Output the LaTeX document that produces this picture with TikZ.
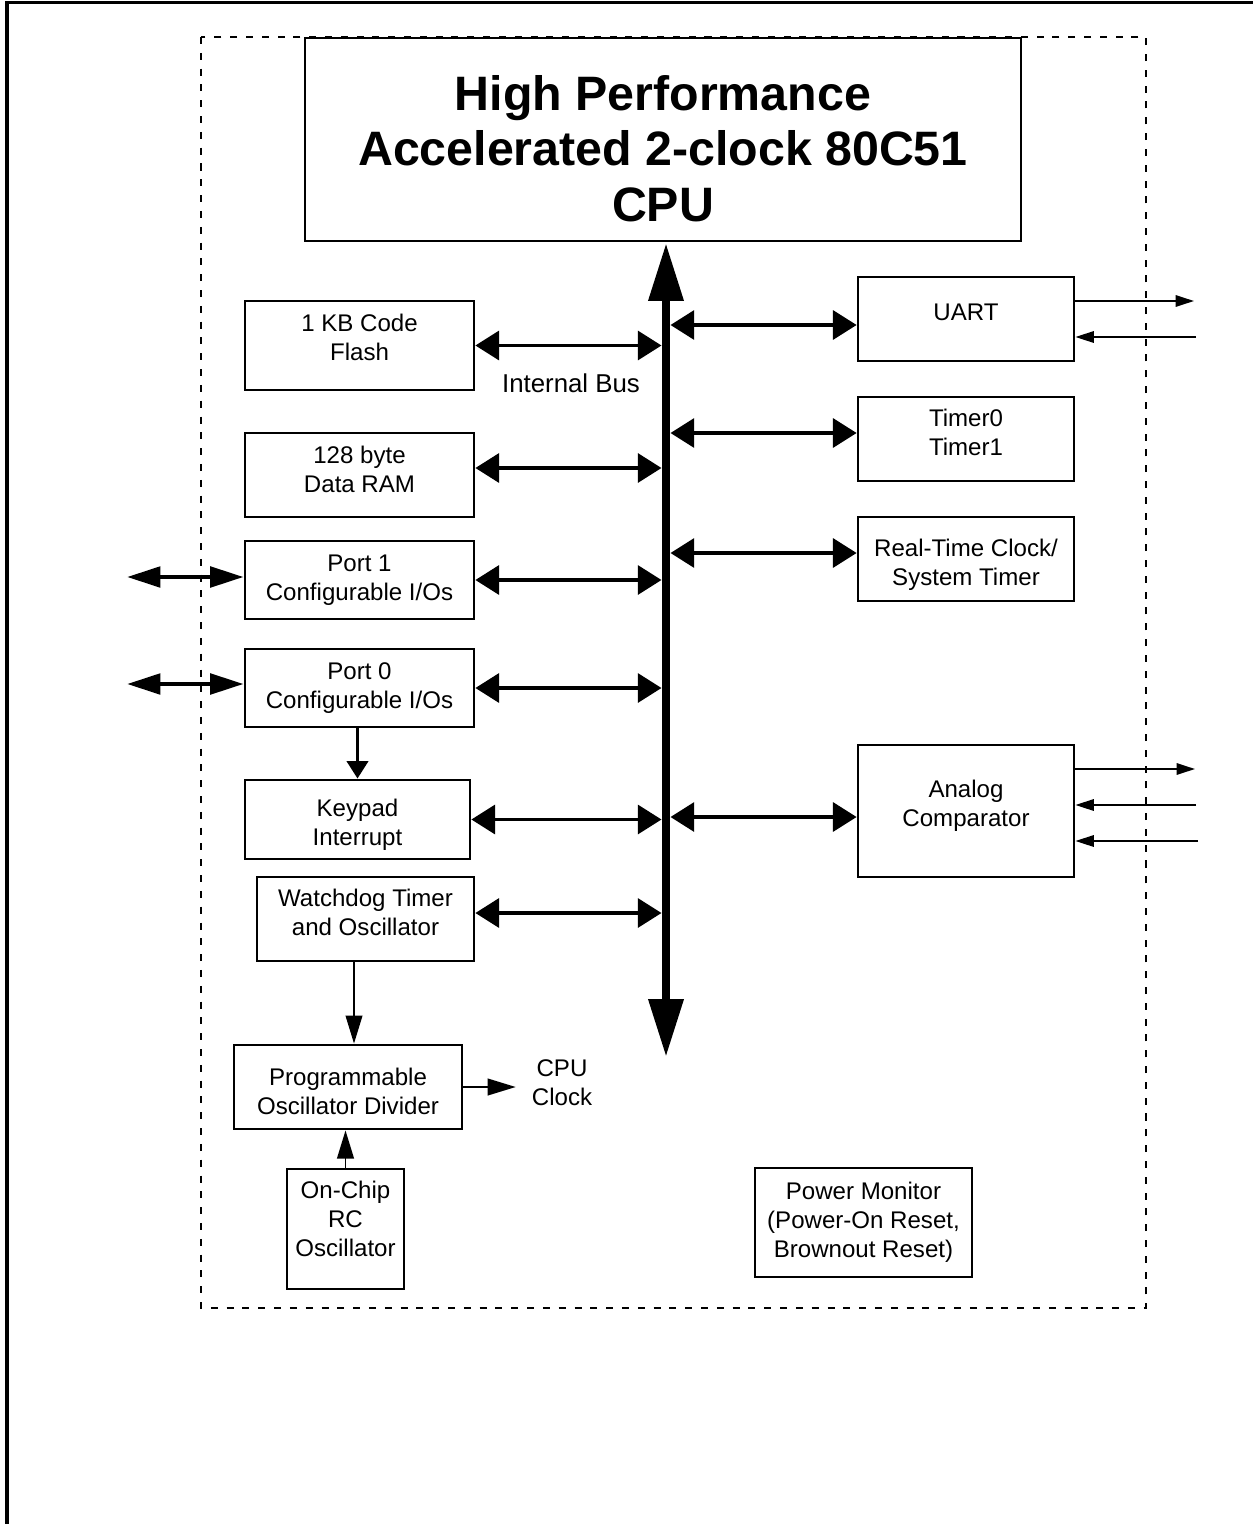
\documentclass[tikz,border=0pt]{standalone}
\usepackage{fontspec}
\setmainfont{Liberation Sans}
\usepackage{tikz}
\usetikzlibrary{arrows.meta,calc,positioning}
\newcommand{\blkfont}{\fontsize{13.7}{16.5}\selectfont}
\newcommand{\cpufont}{\fontsize{27.5}{31.7}\selectfont\bfseries}
\newcommand{\txtup}[1]{\rule[-#1]{0pt}{#1}}
\newcommand{\txtdn}[1]{\rule{0pt}{#1}}

\begin{document}
\begin{tikzpicture}[x=0.02cm,y=-0.02cm,
	blk/.style={draw,line width=1.6pt,align=center,font=\blkfont,inner sep=0pt},
	link/.style={<->,>={Triangle[length=13.5pt,width=16.5pt]},line width=2pt},
	ext/.style={<->,>={Triangle[length=19pt,width=11.5pt]},line width=2.6pt},
	sig/.style={->,>={Triangle[length=10.5pt,width=6.5pt]},line width=1.1pt},
	clkline/.style={->,>={Triangle[length=16pt,width=9.5pt]},line width=1.1pt},
	busline/.style={<->,>={Triangle[length=33pt,width=19pt]},line width=5pt}]
	\useasboundingbox (0,0) rectangle (1253,1524);
	\draw[line width=1.8pt] (1253,2.5) -- (7,2.5) -- (7,1524);
	\draw[line width=1.1pt,dash pattern=on 4pt off 5pt] (201,37) rectangle (1146,1308);
	\node[blk,minimum width=14.32cm,minimum height=4.06cm,font=\cpufont] (cpu) at (663,139.5) {\txtdn{30.4pt}High Performance\\Accelerated 2-clock 80C51\\CPU};
	\node[blk,minimum width=4.58cm,minimum height=1.78cm] (flash) at (359.5,345.5) {1 KB Code\\Flash\txtup{9pt}};
	\node[blk,minimum width=4.58cm,minimum height=1.68cm] (ram) at (359.5,475) {128 byte\\Data RAM\txtup{6.8pt}};
	\node[blk,minimum width=4.58cm,minimum height=1.56cm] (port1) at (359.5,580) {Port 1\\Configurable I/Os};
	\node[blk,minimum width=4.58cm,minimum height=1.56cm] (port0) at (359.5,688) {Port 0\\Configurable I/Os};
	\node[blk,minimum width=4.5cm,minimum height=1.58cm] (kbi) at (357.5,819.5) {\txtdn{15.6pt}Keypad\\Interrupt};
	\node[blk,minimum width=4.34cm,minimum height=1.68cm] (wdt) at (365.5,919) {Watchdog Timer\\and Oscillator\txtup{8pt}};
	\node[blk,minimum width=4.56cm,minimum height=1.68cm] (div) at (348,1087) {\txtdn{14.4pt}Programmable\\Oscillator Divider};
	\node[blk,minimum width=2.34cm,minimum height=2.4cm] (rco) at (345.5,1229) {On-Chip\\RC\\Oscillator\txtup{11.3pt}};
	\node[blk,minimum width=4.34cm,minimum height=2.18cm] (pmon) at (863.5,1222.5) {Power Monitor\\(Power-On Reset,\\Brownout Reset)};
	\node[blk,minimum width=4.32cm,minimum height=1.68cm] (uart) at (966,319) {UART\txtup{8pt}};
	\node[blk,minimum width=4.32cm,minimum height=1.68cm] (tmr) at (966,439) {Timer0\\Timer1\txtup{8pt}};
	\node[blk,minimum width=4.32cm,minimum height=1.68cm] (rtc) at (966,559) {\txtdn{16.7pt}Real-Time Clock/\\System Timer};
	\node[blk,minimum width=4.32cm,minimum height=2.64cm] (cmp) at (966,811) {Analog\\Comparator\txtup{8.5pt}};
	\node[font=\fontsize{14.7}{17}\selectfont] (ibus) at (571,383) {Internal Bus};
	\node[font=\blkfont,align=center,inner sep=0pt] (clk) at (562,1083) {CPU\\Clock};
	\coordinate (bt) at (666,243);
	\coordinate (bb) at (666,1057);
	\coordinate (bl) at (661.5,0);
	\coordinate (br) at (670.5,0);
	\draw[busline] (bb) -- (bt);
	\draw[link] (flash.east) -- (flash.east -| bl);
	\draw[link] ($(ram.east)+(0,-7)$) -- ($(bl |- ram.east)+(0,-7)$);
	\draw[link] (port1.east) -- (port1.east -| bl);
	\draw[link] (port0.east) -- (port0.east -| bl);
	\draw[link] (kbi.east) -- (kbi.east -| bl);
	\draw[link] ($(wdt.east)+(0,-6)$) -- ($(bl |- wdt.east)+(0,-6)$);
	\draw[link] ($(br |- uart.west)+(0,6)$) -- ($(uart.west)+(0,6)$);
	\draw[link] ($(br |- tmr.west)+(0,-6)$) -- ($(tmr.west)+(0,-6)$);
	\draw[link] ($(br |- rtc.west)+(0,-6)$) -- ($(rtc.west)+(0,-6)$);
	\draw[link] ($(br |- cmp.west)+(0,6)$) -- ($(cmp.west)+(0,6)$);
	\coordinate (u1) at (1194,301);
	\coordinate (u2) at (1196,337);
	\coordinate (c1) at (1195,769);
	\coordinate (c2) at (1196,805);
	\coordinate (c3) at (1198,841);
	\draw[sig] (uart.east |- u1) -- (u1);
	\draw[sig] (u2) -- (uart.east |- u2);
	\draw[sig] (cmp.east |- c1) -- (c1);
	\draw[sig] (c2) -- (cmp.east |- c2);
	\draw[sig] (c3) -- (cmp.east |- c3);
	\coordinate (p1) at (127,577);
	\coordinate (p0) at (127,684);
	\draw[ext] (p1) -- (port1.west |- p1);
	\draw[ext] (p0) -- (port0.west |- p0);
	\draw[->,>={Triangle[length=10pt,width=12pt]},line width=2.2pt] (port0.south -| kbi.north) -- (kbi.north);
	\draw[clkline] ($(wdt.south)+(-11.5,0)$) -- ($(div.north)+(6,0)$);
	\draw[clkline] (rco.north) -- (rco.north |- div.south);
	\draw[clkline,shorten >=9pt] (div.east) -- (div.east -| clk.west);
\end{tikzpicture}
\end{document}
